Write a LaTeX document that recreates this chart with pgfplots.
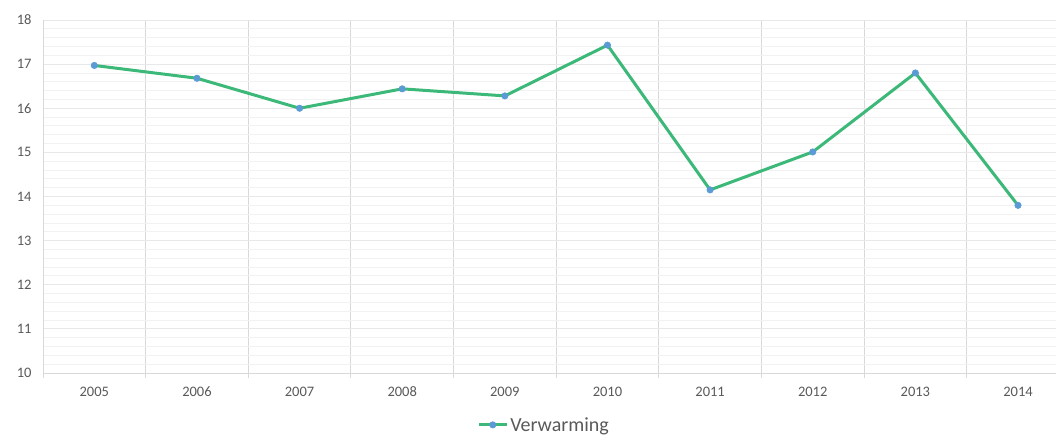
\documentclass[border=0pt]{standalone}
\usepackage{pgfplots}
\pgfplotsset{compat=1.18}
\usepackage{fontspec}
\setmainfont{Carlito}
\definecolor{linegreen}{RGB}{60,184,120}
\definecolor{markblue}{RGB}{91,155,213}
\definecolor{txtgray}{RGB}{89,89,89}
\definecolor{vgrid}{RGB}{217,217,217}
\definecolor{hgrid}{RGB}{232,232,232}
\definecolor{hminor}{RGB}{242,242,242}
\begin{document}
\begin{tikzpicture}[x=1pt,y=1pt]
\path[use as bounding box] (0,0) rectangle (1056,434);
\begin{axis}[
  at={(43pt,61pt)}, anchor=south west,
  width=1013pt, height=353pt, scale only axis,
  xmin=-0.5, xmax=9.37,
  ymin=10, ymax=18,
  xtick={0,...,9},
  xticklabels={2005,2006,2007,2008,2009,2010,2011,2012,2013,2014},
  minor xtick={-0.5,0.5,...,8.5},
  ytick={10,...,18},
  minor y tick num=4,
  xminorgrids=true,
  ymajorgrids=true, yminorgrids=true,
  minor x grid style={draw=vgrid, line width=0.9pt},
  major y grid style={draw=hgrid, line width=0.9pt},
  minor y grid style={draw=hminor, line width=0.9pt},
  axis x line*=bottom, axis y line*=left,
  x axis line style={draw=vgrid, line width=0.9pt, -},
  y axis line style={draw=vgrid, line width=0.9pt, -},
  major tick length=0pt, minor tick length=5pt, tick align=outside,
  xtick style={draw=vgrid, line width=0.9pt},
  ytick style={draw=none},
  tick label style={font=\fontsize{14.5}{16}\selectfont, text=txtgray},
  /pgf/number format/assume math mode=true,
  yticklabel style={xshift=-8pt},
  xticklabel style={anchor=base, yshift=-23pt},
  clip=false,
  legend style={draw=none, fill=none, at={(0.4946,-0.147)}, anchor=center,
    font=\fontsize{20}{22}\selectfont, text=txtgray, inner sep=0pt},
  legend cell align=left,
  legend image code/.code={\draw[mark repeat=2,mark phase=2,#1] plot coordinates {(0pt,0pt) (14pt,0pt) (28pt,0pt)};},
]
\addplot[draw=linegreen, line width=3pt, mark=*, mark size=3.2pt,
  mark options={draw=markblue, fill=markblue, line width=0.6pt, solid}]
  coordinates {(0,16.97) (1,16.68) (2,16.0) (3,16.44) (4,16.28) (5,17.43) (6,14.15) (7,15.01) (8,16.8) (9,13.8)};
\addlegendentry{Verwarming}
\end{axis}
\end{tikzpicture}
\end{document}
